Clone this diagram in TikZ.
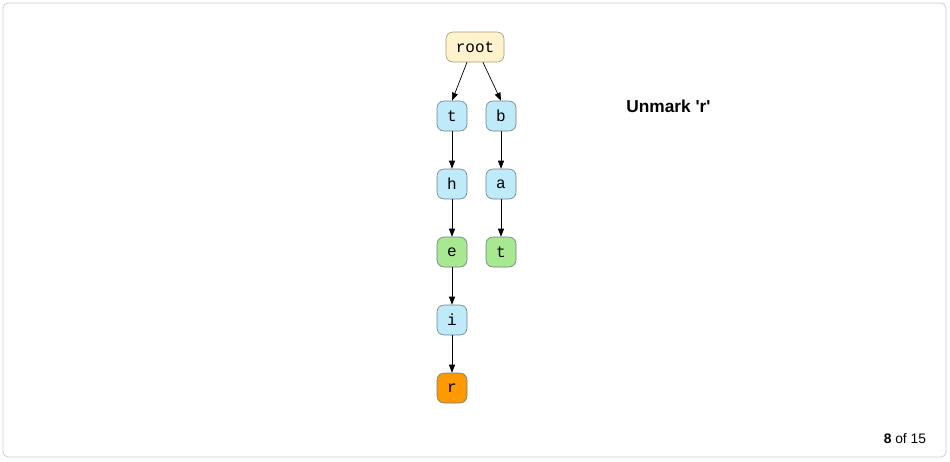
\documentclass[tikz,border=0pt]{standalone}
\usepackage{fontspec}
\setmainfont{Liberation Sans}
\setmonofont{Liberation Mono}
\newfontfamily\titlefont{Liberation Sans}
\usetikzlibrary{arrows.meta}
\definecolor{rootfill}{HTML}{FFF2CC}
\definecolor{rootdraw}{HTML}{A89A78}
\definecolor{bluefill}{HTML}{BFEAFA}
\definecolor{greenfill}{HTML}{A7E890}
\definecolor{orangefill}{HTML}{FF9900}
\definecolor{nodedraw}{HTML}{6F7F87}
\definecolor{frame}{HTML}{CCCCCC}
\tikzset{
  trie/.style={draw=nodedraw, line width=0.6pt, rounded corners=7pt, minimum width=30pt, minimum height=30pt, inner sep=0pt, font=\ttfamily\fontsize{16}{18}\selectfont},
  rootn/.style={trie, fill=rootfill, draw=rootdraw, minimum width=58pt},
  bluen/.style={trie, fill=bluefill},
  greenn/.style={trie, fill=greenfill},
  orangen/.style={trie, fill=orangefill},
  link/.style={-{Triangle[length=8pt,width=6pt]}, line width=0.7pt, black}
}
\begin{document}
\begin{tikzpicture}[x=1pt,y=-1pt]
\useasboundingbox (0,0) rectangle (950,461);
\draw[frame, line width=0.8pt, rounded corners=5pt] (3,3) rectangle (946,457);
\node[rootn] (root) at (475,47) {root};
\node[bluen] (t) at (452,116) {t};
\node[bluen] (b) at (501,116) {b};
\node[bluen] (h) at (452,184) {h};
\node[bluen] (a) at (501,184) {a};
\node[greenn] (e) at (452,252) {e};
\node[greenn] (t2) at (501,252) {t};
\node[bluen] (i) at (452,320) {i};
\node[orangen] (r) at (452,388) {r};
\draw[link] (root.south -| 467,0) -- (t.north);
\draw[link] (root.south -| 483,0) -- (b.north);
\draw[link] (t) -- (h);
\draw[link] (h) -- (e);
\draw[link] (e) -- (i);
\draw[link] (i) -- (r);
\draw[link] (b) -- (a);
\draw[link] (a) -- (t2);
\node[font=\titlefont\bfseries\fontsize{17.3}{20}\selectfont] (title) at (668.5,106) {Unmark 'r'};
\node[font=\fontsize{13.8}{16}\selectfont, anchor=east] (page) at (929.5,439) {\textbf{8} of 15};
\end{tikzpicture}
\end{document}
